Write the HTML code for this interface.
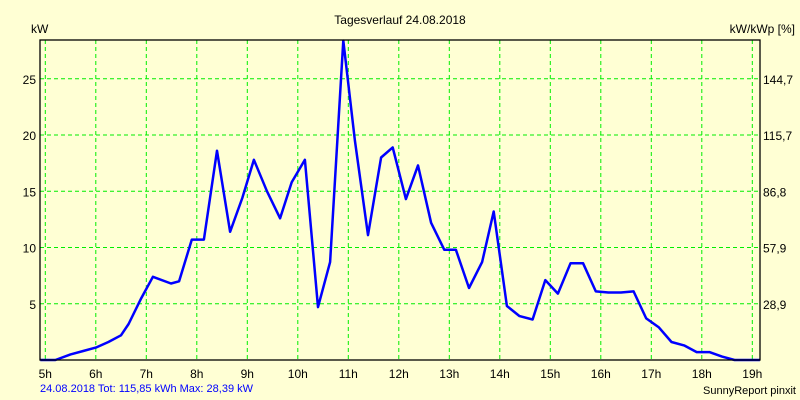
<!DOCTYPE html>
<html><head><meta charset="utf-8"><style>
html,body{margin:0;padding:0;background:#ffffd4;}
svg{display:block;font-family:"Liberation Sans",sans-serif;}
</style></head><body>
<svg width="800" height="400" viewBox="0 0 800 400">
<rect x="0" y="0" width="800" height="400" fill="#ffffd4"/>
<text x="400" y="24" font-size="12" text-anchor="middle" fill="#000">Tagesverlauf 24.08.2018</text>
<text x="31" y="33" font-size="12" fill="#000">kW</text>
<text x="795" y="33" font-size="12" text-anchor="end" fill="#000">kW/kWp [%]</text>
<g id="grid"></g>
<g id="ticks"></g>
<polyline id="series" fill="none" stroke="#0000ff" stroke-width="2.5" stroke-linejoin="round"/>
<rect x="40" y="40" width="720" height="320" fill="none" stroke="#000" stroke-width="1.3"/>
<text x="40" y="392" font-size="11" fill="#0000ff">24.08.2018 Tot: 115,85 kWh Max: 28,39 kW</text>
<text x="796" y="394" font-size="11" text-anchor="end" fill="#000">SunnyReport pinxit</text>
</svg>
<script>
const hourTicks=[5,6,7,8,9,10,11,12,13,14,15,16,17,18,19];
const leftTicks=[5,10,15,20,25];
const rightLabels=["28,9","57,9","86,8","115,7","144,7"];
const hours=[4.9,5.2,5.5,5.75,6,6.25,6.5,6.65,6.9,7.13,7.49,7.65,7.9,8.14,8.4,8.66,8.9,9.13,9.39,9.65,9.88,10.14,10.4,10.64,10.9,11.13,11.39,11.65,11.88,12.14,12.38,12.64,12.9,13.13,13.39,13.65,13.88,14.14,14.39,14.65,14.9,15.15,15.4,15.65,15.9,16.15,16.4,16.65,16.9,17.15,17.4,17.65,17.9,18.15,18.4,18.65,19,19.15];
const values=[0,0,0.5,0.8,1.1,1.6,2.2,3.2,5.5,7.4,6.8,7.0,10.7,10.7,18.6,11.4,14.4,17.8,15.0,12.6,15.8,17.8,4.7,8.7,28.39,19.5,11.1,18.0,18.9,14.3,17.3,12.2,9.8,9.8,6.4,8.7,13.2,4.8,3.9,3.6,7.1,5.9,8.6,8.6,6.1,6.0,6.0,6.1,3.7,2.9,1.6,1.3,0.7,0.7,0.3,0,0,0];
const NS="http://www.w3.org/2000/svg";
const xs=h=>45.3+(h-5)*50.5;
const ys=v=>360-v*11.25;
const grid=document.getElementById('grid'), ticks=document.getElementById('ticks');
hourTicks.forEach(h=>{
  const l=document.createElementNS(NS,'line');
  
  
  l.setAttribute('x1',xs(h));l.setAttribute('x2',xs(h));l.setAttribute('y1',40);l.setAttribute('y2',360);
  l.setAttribute('stroke','#00ee00');l.setAttribute('stroke-dasharray','4,3');
  grid.appendChild(l);
  const t=document.createElementNS(NS,'text');
  
  
  t.setAttribute('x',xs(h));t.setAttribute('y',378);t.setAttribute('font-size','12');t.setAttribute('text-anchor','middle');
  t.textContent=h+'h';ticks.appendChild(t);
});
leftTicks.forEach((v,i)=>{
  const l=document.createElementNS(NS,'line');
  
  
  l.setAttribute('x1',40);l.setAttribute('x2',760);l.setAttribute('y1',ys(v));l.setAttribute('y2',ys(v));
  l.setAttribute('stroke','#00ee00');l.setAttribute('stroke-dasharray','4,3');
  grid.appendChild(l);
  const t=document.createElementNS(NS,'text');
  
  
  t.setAttribute('x',36);t.setAttribute('y',ys(v)+5);t.setAttribute('font-size','12');t.setAttribute('text-anchor','end');
  t.textContent=v;ticks.appendChild(t);
  const r=document.createElementNS(NS,'text');
  
  
  r.setAttribute('x',763);r.setAttribute('y',ys(v)+5);r.setAttribute('font-size','12');
  r.textContent=rightLabels[i];ticks.appendChild(r);
});
document.getElementById('series').setAttribute('points',hours.map((h,i)=>Math.max(40,xs(h)).toFixed(1)+','+ys(values[i]).toFixed(1)).join(' '));
</script>
</body></html>
